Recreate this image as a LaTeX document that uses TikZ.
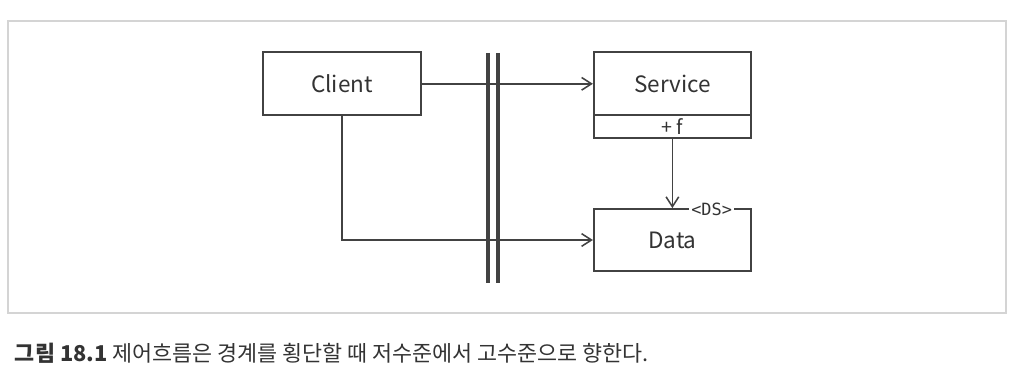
\documentclass[tikz,border=0pt]{standalone}
\usepackage{fontspec}
\setmainfont{Noto Sans CJK KR}
\newfontfamily\dsfont{DejaVu Sans Mono}
\usepackage{xcolor}
\usetikzlibrary{arrows.meta, positioning}
\definecolor{dInk}{HTML}{424242}
\definecolor{dText}{HTML}{333333}
\definecolor{dFrame}{HTML}{D4D4D4}

\begin{document}
\begin{tikzpicture}[
  every node/.style={font=\fontsize{16}{19}\selectfont, text=dText},
  cls/.style={rectangle, draw=dInk, fill=white, line width=1.3pt, inner sep=0pt,
              minimum width=3.93cm, minimum height=1.57cm, align=center},
  ops/.style={rectangle, draw=dInk, line width=1.3pt, inner sep=0pt,
              minimum width=3.93cm, minimum height=0.575cm,
              font=\fontsize{14}{16}\selectfont},
  dep/.style={draw=dInk, line width=1.1pt, -{Straight Barb[length=7pt,width=9pt]}},
  wall/.style={draw=dInk, line width=2.2pt}
]
\useasboundingbox (0,0) rectangle (25.6,9.575);
\draw[dFrame, line width=1pt] (0.2,1.75) rectangle (25.15,9.05);

% classes
\node[cls] (client)  at (8.55,7.48)  {Client};
\node[cls] (service) at (16.81,7.48) {Service};
\node[ops, below=-1.3pt of service] (svcop) {+ f};
\node[cls, minimum height=1.55cm] (data) at (16.81,3.575) {Data};
\node[fill=white, inner sep=1.5pt, font=\dsfont\fontsize{12}{14}\selectfont]
  (ds) at (17.79,4.35) {<DS>};

% dependencies
\draw[dep] (client) -- (service);
\draw[dep] (client.south) |- (data.west);
\draw[dep] (svcop.south) -- (data.north);

% boundary
\coordinate (wtop) at (12.325,8.25);
\coordinate (wbot) at (12.325,2.5);
\draw[wall] ([xshift=-0.125cm]wtop) -- ([xshift=-0.125cm]wbot);
\draw[wall] ([xshift=0.125cm]wtop) -- ([xshift=0.125cm]wbot);

\node[anchor=base west, font=\fontsize{15.5}{18}\selectfont] (cap) at (0.25,0.53)
  {\textbf{그림 18.1} 제어흐름은 경계를 횡단할 때 저수준에서 고수준으로 향한다.};
\end{tikzpicture}
\end{document}
